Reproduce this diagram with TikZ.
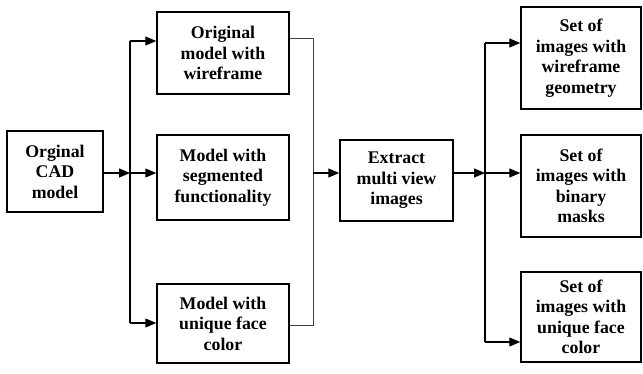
\documentclass[tikz,border=0pt]{standalone}
\usepackage{fontspec}
\setmainfont{Liberation Serif}
\usetikzlibrary{calc}
\usetikzlibrary{arrows.meta}

\begin{document}
\begin{tikzpicture}[x=1pt,y=-1pt,
  box/.style={draw=black, line width=1.4pt, align=center, inner sep=1pt,
    font=\bfseries\fontsize{17.8}{20.5}\selectfont},
  arr/.style={black, line width=1.1pt, -{Triangle[length=11pt,width=9pt]}},
  link/.style={black, line width=1.1pt},
  thinlink/.style={black!75, line width=0.9pt}]

\useasboundingbox (0,0) rectangle (643,374);

\node[box, minimum width=96pt, minimum height=81pt] (cad) at (55,171.5) {Orginal\\CAD\\model};
\node[box, minimum width=132pt, minimum height=82pt] (wire) at (223,53) {Original\\model with\\wireframe};
\node[box, minimum width=132pt, minimum height=85pt] (seg) at (223,177.5) {Model with\\segmented\\functionality};
\node[box, minimum width=132pt, minimum height=79pt] (face) at (223,323.5) {Model with\\unique face\\color};
\node[box, minimum width=113pt, minimum height=81pt] (extract) at (396.5,180.5) {Extract\\multi view\\images};
\node[box, minimum width=120pt, minimum height=102pt] (setwire) at (581,58) {Set of\\images with\\wireframe\\geometry};
\node[box, minimum width=120pt, minimum height=102pt] (setmask) at (581,186) {Set of\\images with\\binary\\masks};
\node[box, minimum width=120pt, minimum height=90pt] (setface) at (581,317) {Set of\\images with\\unique face\\color};

\coordinate (J1) at (130,173);
\coordinate (J1a) at (130,41);
\coordinate (J1b) at (130,323);
\coordinate (J2) at (313,173);
\coordinate (J2a) at (313,38);
\coordinate (J2b) at (313,325);
\coordinate (J3) at (485,173);
\coordinate (J3a) at (485,43);
\coordinate (J3b) at (485,342);

\draw[arr] (cad.east |- J1) -- (J1);
\draw[link] (J1a) -- (J1b);
\draw[arr] (J1a) -- (J1a -| wire.west);
\draw[arr] (J1) -- (J1 -| seg.west);
\draw[arr] (J1b) -- (J1b -| face.west);

\draw[thinlink] (wire.east |- J2a) -- (J2a) -- (J2b) -- (face.east |- J2b);
\draw[arr] (J2) -- (J2 -| extract.west);

\draw[arr] (extract.east |- J3) -- (J3);
\draw[link] (J3a) -- (J3b);
\draw[arr] (J3a) -- (J3a -| setwire.west);
\draw[arr] (J3) -- (J3 -| setmask.west);
\draw[arr] (J3b) -- (J3b -| setface.west);

\end{tikzpicture}
\end{document}
